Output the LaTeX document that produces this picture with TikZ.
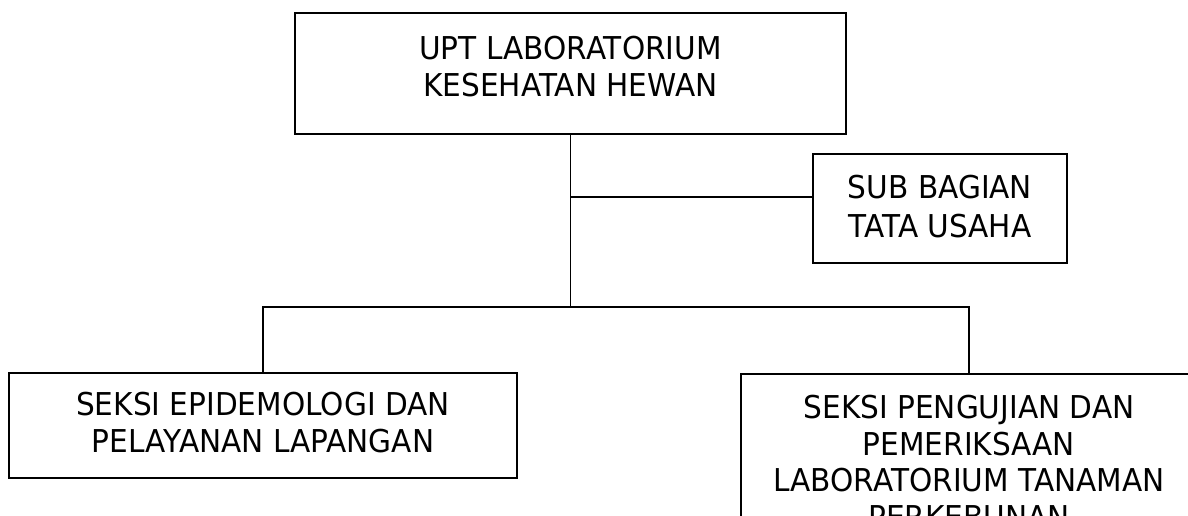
\documentclass[tikz,border=0pt]{standalone}
\usepackage{fontspec}
\setmainfont[FakeStretch=0.94]{DejaVu Sans}
\usetikzlibrary{fit}
\begin{document}
\begin{tikzpicture}[x=0.75pt,y=-0.75pt,
  box/.style={draw, line width=1.4pt, inner sep=0pt},
  lbl/.style={anchor=north, inner sep=0pt, align=center, font=\fontsize{23.6}{27.4}\selectfont},
  conn/.style={line width=1.4pt}]
\useasboundingbox (0,0) rectangle (1188,515);
\clip (0,0) rectangle (1188,515);
\node[box, fit={(295,13) (846,134)}] (top) {};
\node[lbl] (toptxt) at (570.5,36) {UPT LABORATORIUM\\KESEHATAN HEWAN};
\node[box, fit={(813,154) (1067,263)}] (sub) {};
\node[lbl, font=\fontsize{23.6}{29}\selectfont] (subtxt) at (940,175) {SUB BAGIAN\\TATA USAHA};
\node[box, fit={(9,373) (517,478)}] (left) {};
\node[lbl] (lefttxt) at (263,392) {SEKSI EPIDEMOLOGI DAN\\PELAYANAN LAPANGAN};
\node[box, fit={(741,374) (1197,570)}] (right) {};
\node[lbl] (righttxt) at (969,395) {SEKSI PENGUJIAN DAN\\PEMERIKSAAN\\LABORATORIUM TANAMAN\\PERKEBUNAN};
\coordinate (bus) at (570.5,307);
\coordinate (subjoin) at (570.5,197);
\draw[conn] (top.south) -- (bus);
\draw[conn] (subjoin) -- (subjoin -| sub.west);
\draw[conn] (left.north) |- (bus) -| (right.north);
\end{tikzpicture}
\end{document}
